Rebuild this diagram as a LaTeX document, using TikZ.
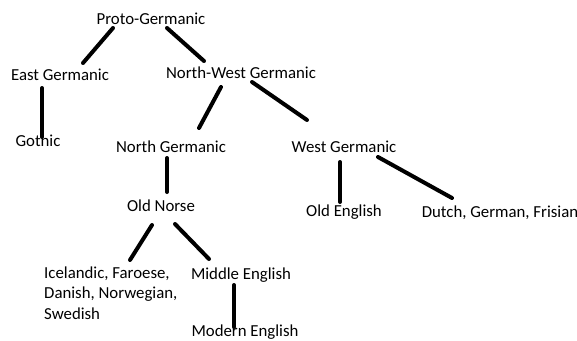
\documentclass[tikz,border=0pt]{standalone}
\usepackage{fontspec}
\setmainfont{Carlito}
\begin{document}
\begin{tikzpicture}[x=1pt,y=-1pt,
  lbl/.style={inner sep=0pt,anchor=base,font=\fontsize{16.8}{20.5}\selectfont},
  conn/.style={line width=4pt,line cap=round}]
\useasboundingbox (0,0) rectangle (577,340);
\node[lbl] (pg) at (151,24) {Proto-Germanic};
\node[lbl] (eg) at (60,80) {East Germanic};
\node[lbl] (nwg) at (241,78) {North-West Germanic};
\node[lbl] (go) at (38,146) {Gothic};
\node[lbl] (ng) at (171,152) {North Germanic};
\node[lbl] (wg) at (344,152) {West Germanic};
\node[lbl] (oe) at (344,216) {Old English};
\node[lbl] (dgf) at (500,217) {Dutch, German, Frisian};
\node[lbl] (on) at (161,211) {Old Norse};
\node[lbl,anchor=base west,align=left] (ic) at (44,319) {Icelandic, Faroese,\\Danish, Norwegian,\\Swedish};
\node[lbl] (me) at (241,279) {Middle English};
\node[lbl] (mo) at (245,336) {Modern English};
\draw[conn] ([shift={(-38,4)}]pg.base) -- ([shift={(23,-17)}]eg.base);
\draw[conn] ([shift={(16,4)}]pg.base) -- ([shift={(-37,-17)}]nwg.base);
\draw[conn] ([shift={(-18,8)}]eg.base) -- ([shift={(4,-9)}]go.base);
\draw[conn] ([shift={(-20,9)}]nwg.base) -- ([shift={(28,-24)}]ng.base);
\draw[conn] ([shift={(11,4)}]nwg.base) -- ([shift={(-37,-32)}]wg.base);
\draw[conn] ([shift={(-4,6)}]ng.base) -- ([shift={(6,-19)}]on.base);
\draw[conn] ([shift={(-4,10)}]wg.base) -- ([shift={(-4,-14)}]oe.base);
\draw[conn] ([shift={(34,5)}]wg.base) -- ([shift={(-48,-19)}]dgf.base);
\draw[conn] ([shift={(-9,14)}]on.base) -- ([shift={(86,-59)}]ic.base west);
\draw[conn] ([shift={(14,13)}]on.base) -- ([shift={(-32,-20)}]me.base);
\draw[conn] ([shift={(-7,6)}]me.base) -- ([shift={(-11,-9)}]mo.base);
\end{tikzpicture}
\end{document}
